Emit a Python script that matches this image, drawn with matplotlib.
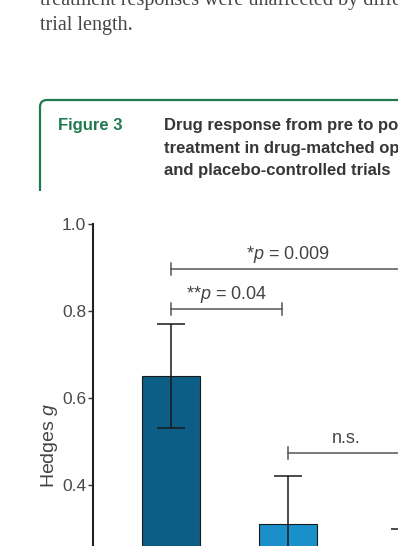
import numpy as np
import matplotlib
matplotlib.use('Agg')
import matplotlib.pyplot as plt
from matplotlib.path import Path
from matplotlib.patches import PathPatch

plt.rcParams['font.family'] = ['Liberation Sans', 'DejaVu Sans']
plt.rcParams['mathtext.fontset'] = 'custom'
plt.rcParams['mathtext.rm'] = 'Liberation Sans'
plt.rcParams['mathtext.it'] = 'Liberation Sans:italic'

# data
groups = ['Drug, open-label', 'Drug, placebo-controlled', 'Placebo']
hedges_g = [0.65, 0.31, 0.19]
hedges_err = [0.12, 0.11, 0.11]
bar_colors = ['#0c5e86', '#1a90ca', '#7cc3e6']
ytick_vals = [0.4, 0.6, 0.8, 1.0]

# significance brackets: (x start, x end, y, label)
brackets = [(0, 2, 0.897, r'*$p$ = 0.009'),
            (0, 0.95, 0.805, r'**$p$ = 0.04'),
            (1, 2, 0.473, 'n.s.')]

W, H = 398, 546
fig = plt.figure(figsize=(W / 100, H / 100), dpi=100)

def fx(px):
    return px / W

def fy(py):
    return 1 - py / H

# body text above the figure box
serif = dict(family='Liberation Serif', fontsize=14.5, color='#454545', va='baseline')
fig.text(fx(40), fy(5), 'treatment responses were unaffected by differences in', **serif)
fig.text(fx(40), fy(30), 'trial length.', **serif)

# caption box (top + left border with rounded corner)
green = '#1f7a4f'
r = 7
verts = [(fx(40), fy(191)), (fx(40), fy(100 + r)), (fx(40), fy(100)),
         (fx(40 + r), fy(100)), (fx(420), fy(100))]
codes = [Path.MOVETO, Path.LINETO, Path.CURVE3, Path.CURVE3, Path.LINETO]
fig.add_artist(PathPatch(Path(verts, codes), transform=fig.transFigure,
                         facecolor='none', edgecolor=green, linewidth=1.6))

fig.text(fx(58), fy(130), 'Figure 3', fontsize=12, weight='bold', color=green, va='baseline')
cap = ['Drug response from pre to post-',
       'treatment in drug-matched open-label',
       'and placebo-controlled trials']
for i, line in enumerate(cap):
    fig.text(fx(164), fy(130 + 22.5 * i), line, fontsize=12, weight='bold',
             color='#363636', va='baseline')

# bar chart
ax = fig.add_axes([fx(93), (H - 659) / H, 390 / W, 435 / H])
x = np.arange(len(groups))
ax.bar(x, hedges_g, width=0.49, color=bar_colors, edgecolor='#1a1a1a',
       linewidth=0.8, zorder=2)
ax.errorbar(x, hedges_g, yerr=hedges_err, fmt='none', ecolor='#1a1a1a',
            elinewidth=1.1, capsize=10, capthick=1.1, zorder=3)

ax.set_xlim(-0.667, 2.667)
ax.set_ylim(0, 1.0)
for s in ['top', 'right', 'bottom']:
    ax.spines[s].set_visible(False)
ax.spines['left'].set_linewidth(1.5)
ax.spines['left'].set_color('#222222')
ax.set_xticks([])
ax.set_yticks(ytick_vals)
ax.set_yticklabels(['%.1f' % v for v in ytick_vals])
ax.tick_params(axis='y', length=3.5, width=1.0, pad=1.5, labelsize=12.5,
               labelcolor='#4a4a4a', color='#333333')
ax.patch.set_alpha(0)

fig.text(fx(50), fy(445), r'Hedges $g$', rotation=90, fontsize=14,
         color='#444444', ha='center', va='center')

d = 0.014
for x0, x1, y, lab in brackets:
    ax.plot([x0, x1], [y, y], color='#555555', lw=1.1, clip_on=False, zorder=4)
    for xe in (x0, x1):
        ax.plot([xe, xe], [y - d, y + d], color='#555555', lw=1.1, clip_on=False, zorder=4)
    ax.annotate(lab, xy=((x0 + x1) / 2, y), xytext=(0, 7.2), textcoords='offset points',
                ha='center', va='baseline', fontsize=13, color='#444444')

fig.savefig('out.png', dpi=100)
